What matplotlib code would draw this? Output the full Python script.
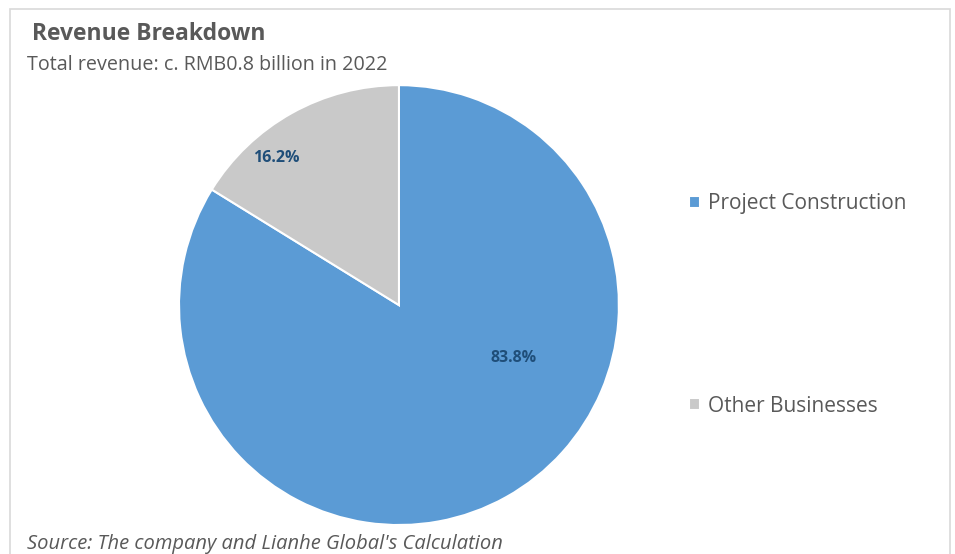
import matplotlib.pyplot as plt
from matplotlib.patches import Rectangle

segments = ["Project Construction", "Other Businesses"]
shares = [83.8, 16.2]
colors = ["#5B9BD5", "#C9C9C9"]

plt.rcParams['font.family'] = ['Open Sans', 'DejaVu Sans']
TEXT = "#595959"

fig = plt.figure(figsize=(9.55, 5.54), dpi=100)

# light frame like the Excel chart area
fig.patches.append(Rectangle((10 / 955, -0.05), 940 / 955, 1 - 9 / 554 + 0.05,
                             transform=fig.transFigure, fill=False,
                             edgecolor="#D9D9D9", linewidth=1.2))

ax = fig.add_axes([0.1874, 0.0523, 0.4607, 0.794])
wedges, texts, autotexts = ax.pie(shares, colors=colors, startangle=90, counterclock=False,
                                  autopct="%.1f%%", radius=1,
                                  wedgeprops=dict(edgecolor="white", linewidth=1.5),
                                  textprops=dict(color="#1F4E79", fontsize=11.5, fontweight="bold"))
ax.set_xlim(-1, 1)
ax.set_ylim(-1, 1)
ax.set_aspect("equal")

# Excel places the data labels a bit differently from matplotlib
label_pos = [(0.52, -0.24), (-0.56, 0.67)]
for t, p in zip(autotexts, label_pos):
    t.set_position(p)

fig.legend(wedges, segments, loc="upper left", bbox_to_anchor=(681 / 955, 1 - 185 / 554),
           frameon=False, fontsize=15, labelcolor=TEXT, handlelength=0.5, handleheight=0.5,
           handletextpad=0.4, labelspacing=8.7, borderaxespad=0)

fig.text(32 / 955, 1 - 34 / 554, "Revenue Breakdown", fontsize=16.5, fontweight="bold",
         color=TEXT, va="center")
fig.text(27 / 955, 1 - 65 / 554, "Total revenue: c. RMB0.8 billion in 2022", fontsize=14.2,
         color=TEXT, va="center")
fig.text(27 / 955, 1 - 544 / 554, "Source: The company and Lianhe Global's Calculation",
         fontsize=14.5, color=TEXT, style="italic", va="center")

fig.savefig("out.png", dpi=100)
